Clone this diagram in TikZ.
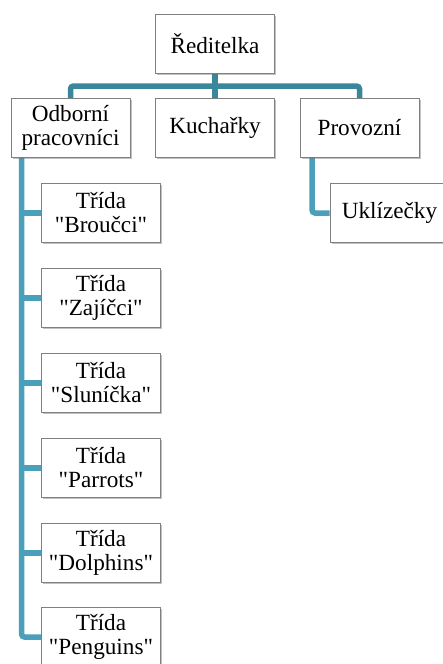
\documentclass[tikz,border=0pt]{standalone}
\usepackage{fontspec}
\setmainfont{Liberation Serif}[Ligatures=NoCommon]
\newfontfamily\boxfont{Liberation Serif}
\usetikzlibrary{shadows,backgrounds}
\definecolor{connA}{RGB}{58,135,156}
\definecolor{connB}{RGB}{74,160,186}
\definecolor{boxline}{RGB}{128,128,128}
\newcommand{\q}{\symbol{34}}
\tikzset{
  orgbox/.style={draw=boxline, line width=0.9pt, fill=white, minimum width=119pt, minimum height=59pt,
    inner sep=1pt, align=center, font=\boxfont\fontsize{23.2}{24}\selectfont,
    drop shadow={shadow xshift=1.5pt, shadow yshift=-1.5pt, opacity=0.4, fill=black!60}},
  linkA/.style={draw=connA, line width=5.5pt, rounded corners=3pt},
  linkB/.style={draw=connB, line width=5.5pt, rounded corners=3pt}
}
\begin{document}
\begin{tikzpicture}[x=1pt,y=-1pt]
\useasboundingbox (0,0) rectangle (443,664);
\clip (0,0) rectangle (443,664);
\coordinate (bar) at (0,86);
\coordinate (spine) at (21.5,0);
\coordinate (rspine) at (312,0);
\node[orgbox] (r) at (215,43.5) {Ředitelka};
\node[orgbox] (o) at (70.5,128) {Odborní\\pracovníci};
\node[orgbox] (k) at (215,128) {Kuchařky};
\node[orgbox] (p) at (359.5,128) {Provozní};
\node[orgbox] (c1) at (101,213) {Třída\\\q Broučci\q};
\node[orgbox] (c2) at (101,298) {Třída\\\q Zajíčci\q};
\node[orgbox] (c3) at (101,383) {Třída\\\q Sluníčka\q};
\node[orgbox] (c4) at (101,468) {Třída\\\q Parrots\q};
\node[orgbox] (c5) at (101,553) {Třída\\\q Dolphins\q};
\node[orgbox] (c6) at (101,637) {Třída\\\q Penguins\q};
\node[orgbox] (u) at (389.5,213) {Uklízečky};
\begin{pgfonlayer}{background}
\path[linkA] (o.north) -- (o.north |- bar) -- (p.north |- bar) -- (p.north);
\path[linkA] (r.south) -- (k.north);
\path[linkB] (o.south -| spine) |- (c6.west);
\foreach \c in {c1,c2,c3,c4,c5} {\path[linkB] (spine |- \c.west) -- (\c.west);}
\path[linkB] (p.south -| rspine) |- (u.west);
\end{pgfonlayer}
\end{tikzpicture}
\end{document}
